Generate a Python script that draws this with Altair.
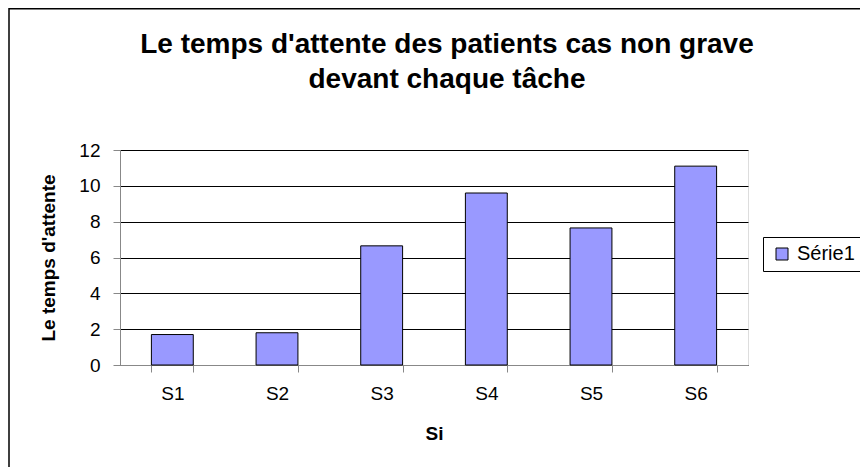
import altair as alt
import pandas as pd

# ---- data ----
categories = ["S1", "S2", "S3", "S4", "S5", "S6"]
values = [1.7, 1.8, 6.65, 9.6, 7.65, 11.1]
series_name = "Série1"
y_ticks = [0, 2, 4, 6, 8, 10, 12]
title_lines = ["Le temps d'attente des patients cas non grave", "devant chaque tâche"]
x_title = "Si"
y_title = "Le temps d'attente"

df = pd.DataFrame({"cat": categories, "val": values, "serie": [series_name] * len(categories)})

FONT = "Liberation Sans"

bars = alt.Chart(df).mark_bar(stroke="black", strokeWidth=1).encode(
    x=alt.X(
        "cat:N",
        sort=categories,
        title=x_title,
        scale=alt.Scale(paddingInner=0.6, paddingOuter=0.3),
        axis=alt.Axis(
            labelAngle=0,
            tickBand="extent",
            grid=False,
            tickSize=7,
            labelPadding=12,
            titlePadding=21,
            labelFontSize=19,
            titleFontSize=19,
        ),
    ),
    y=alt.Y(
        "val:Q",
        title=y_title,
        scale=alt.Scale(domain=[0, 12], nice=False),
        axis=alt.Axis(
            values=y_ticks,
            grid=True,
            gridColor="black",
            gridOpacity=1,
            gridWidth=1,
            tickSize=7,
            labelPadding=13,
            titlePadding=20,
            labelFontSize=19,
            titleFontSize=19,
        ),
    ),
    color=alt.Color(
        "serie:N",
        scale=alt.Scale(domain=[series_name], range=["#9999FF"]),
        legend=alt.Legend(
            title=None,
            orient="none",
            legendX=643,
            legendY=87,
            symbolType="square",
            symbolSize=144,
            symbolStrokeColor="black",
            symbolStrokeWidth=1,
            symbolOpacity=1,
            labelFontSize=20,
            labelFont=FONT,
            labelColor="black",
            strokeColor="black",
            padding=7,
            symbolOffset=2,
            labelOffset=5,
        ),
    ),
)

border = alt.Chart(pd.DataFrame({"k": [0]})).mark_rect(
    fill="transparent", stroke="black", strokeWidth=1.5
).encode(
    x=alt.value(-111),
    x2=alt.value(900),
    y=alt.value(-141.2),
    y2=alt.value(500),
)

chart = alt.layer(border, bars).properties(
    width=628,
    height=215,
    title=alt.TitleParams(
        text=title_lines,
        font=FONT,
        fontSize=28,
        fontWeight="bold",
        color="black",
        anchor="middle",
        lineHeight=35,
        offset=-86,
        dx=13,
    ),
    autosize=alt.AutoSizeParams(type="none"),
    padding={"left": 112, "top": 142, "right": 112, "bottom": 102},
).configure_view(
    fill="#C0C0C0", stroke="black", strokeWidth=1
).configure_axis(
    labelFont=FONT,
    titleFont=FONT,
    labelColor="black",
    titleColor="black",
    titleFontWeight="bold",
    domainColor="black",
    tickColor="black",
    domainWidth=1,
    tickWidth=1,
).configure(background="white")

chart.save("out.html", embed_options={"renderer": "svg", "actions": False})
